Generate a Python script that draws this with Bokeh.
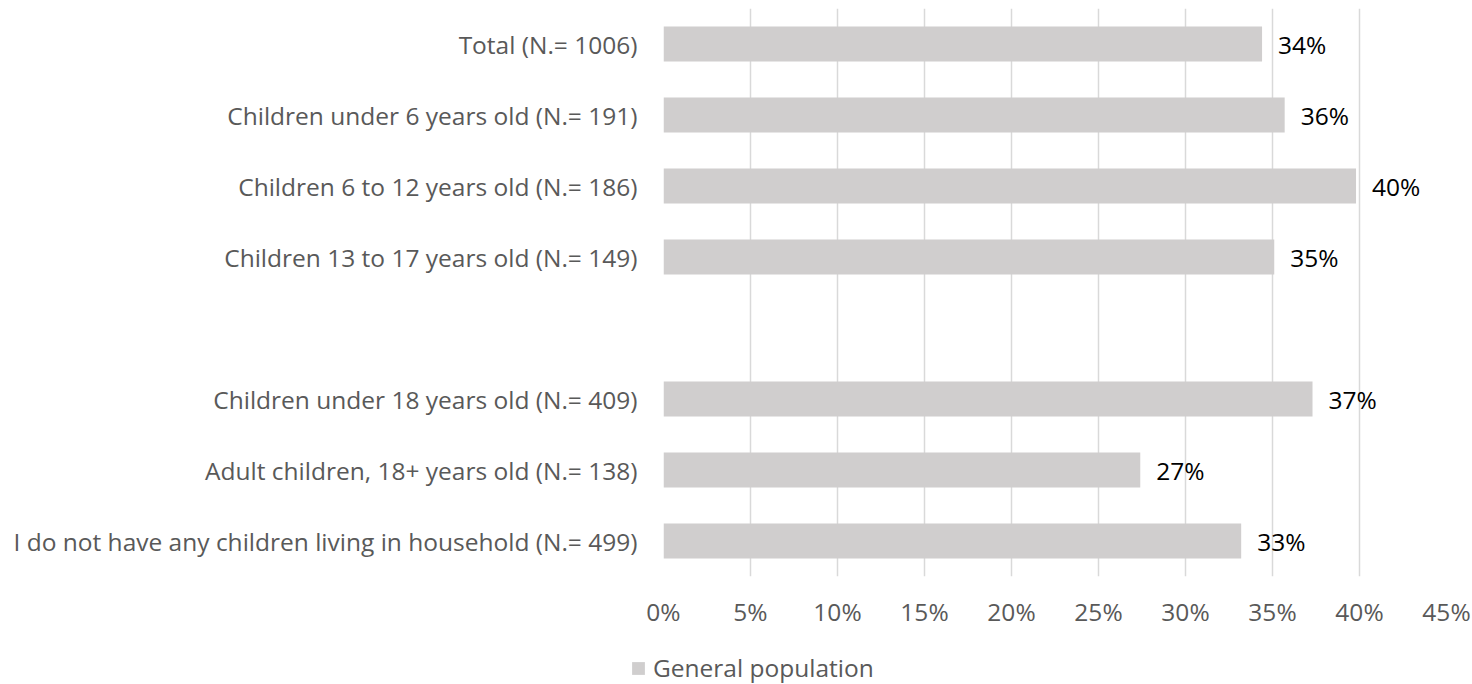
from bokeh.plotting import figure
from bokeh.layouts import column
from bokeh.models import ColumnDataSource, Range1d, FixedTicker, Legend, LegendItem
from bokeh.core.properties import value
from bokeh.embed import file_html
from bokeh.resources import INLINE

categories = [
    "Total (N.= 1006)",
    "Children under 6 years old (N.= 191)",
    "Children 6 to 12 years old (N.= 186)",
    "Children 13 to 17 years old (N.= 149)",
    "",
    "Children under 18 years old (N.= 409)",
    "Adult children, 18+ years old (N.= 138)",
    "I do not have any children living in household (N.= 499)",
]
values = [34.4, 35.7, 39.8, 35.1, None, 37.3, 27.4, 33.2]
value_labels = ["34%", "36%", "40%", "35%", "", "37%", "27%", "33%"]
x_ticks = [0, 5, 10, 15, 20, 25, 30, 35, 40, 45]
x_tick_labels = ["0%", "5%", "10%", "15%", "20%", "25%", "30%", "35%", "40%", "45%"]
series_name = "General population"

FONT = "Open Sans"
FS = "24.5px"
GRAY_TEXT = "#595959"
BAR = "#D0CECE"
GRID = "#D9D9D9"

idx = [i for i, v in enumerate(values) if v is not None]
src = ColumnDataSource(dict(
    y=idx,
    v=[values[i] for i in idx],
    lab=[value_labels[i] for i in idx],
))

p = figure(width=1472, height=640, output_backend="svg", toolbar_location=None,
           x_range=Range1d(0, 45), y_range=Range1d(len(categories) - 0.5, -0.5),
           min_border_left=663, min_border_right=26, min_border_top=8, min_border_bottom=64)
p.outline_line_color = None
p.background_fill_color = "white"
p.frame_align = False

r = p.hbar(y="y", right="v", left=0, height=0.49, source=src, fill_color=BAR, line_color=None)
p.text(x="v", y="y", text="lab", source=src, x_offset=16, text_align="left",
       text_baseline="middle", text_font=value(FONT), text_font_size=FS, text_color="#000000")

p.xaxis.ticker = FixedTicker(ticks=x_ticks)
p.xaxis.major_label_overrides = {t: l for t, l in zip(x_ticks, x_tick_labels)}
p.yaxis.ticker = FixedTicker(ticks=list(range(len(categories))))
p.yaxis.major_label_overrides = {i: c for i, c in enumerate(categories)}

for ax in (p.xaxis[0], p.yaxis[0]):
    ax.axis_line_color = None
    ax.major_tick_line_color = None
    ax.minor_tick_line_color = None
    ax.major_label_text_font = FONT
    ax.major_label_text_font_size = FS
    ax.major_label_text_color = GRAY_TEXT
p.xaxis.major_label_standoff = 12
p.yaxis.major_label_standoff = 20

p.xgrid.grid_line_color = GRID
p.xgrid.grid_line_width = 1.5
p.ygrid.grid_line_color = None

# legend strip below the chart (proxy bar lies outside the visible range)
p2 = figure(width=1472, height=44, output_backend="svg", toolbar_location=None,
            x_range=Range1d(0, 1), y_range=Range1d(0, 1),
            min_border_left=0, min_border_right=0, min_border_top=0, min_border_bottom=0)
p2.frame_align = False
p2.axis.visible = False
p2.grid.visible = False
p2.outline_line_color = None
lr = p2.hbar(y=[10], right=[11], left=10, height=0.5, fill_color=BAR, line_color=None)
legend = Legend(items=[LegendItem(label=series_name, renderers=[lr])],
                location=(630, 0), orientation="horizontal",
                border_line_color=None, background_fill_alpha=0,
                padding=0, margin=0, spacing=0,
                glyph_width=16, glyph_height=16, label_standoff=7,
                label_text_font=FONT, label_text_font_size=FS, label_text_color=GRAY_TEXT)
p2.add_layout(legend, "center")

open("out.html", "w").write(file_html(column(p, p2, spacing=0), INLINE))
